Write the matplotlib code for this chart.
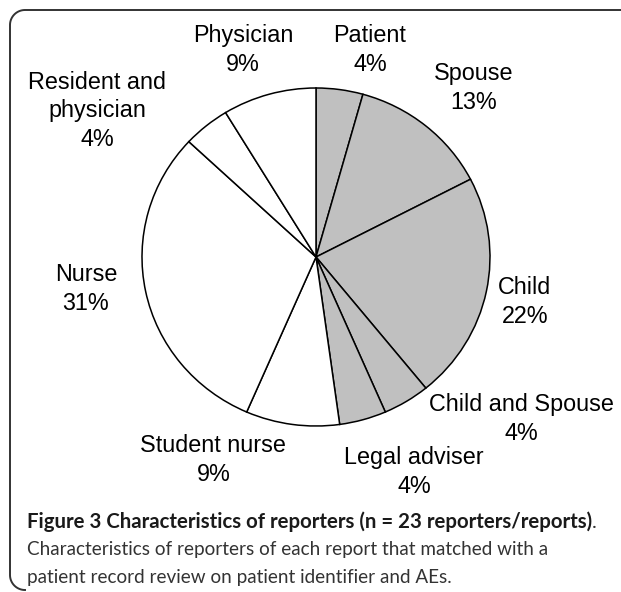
import numpy as np
import matplotlib.pyplot as plt
from matplotlib.lines import Line2D

# reporters of each report (n = 23), clockwise from 12 o'clock
reporters = ['Patient', 'Spouse', 'Child', 'Child and Spouse', 'Legal adviser',
             'Student nurse', 'Nurse', 'Resident and\nphysician', 'Physician']
counts = [1, 3, 5, 1, 1, 2, 7, 1, 2]
pct_labels = ['4%', '13%', '22%', '4%', '4%', '9%', '31%', '4%', '9%']
relative = [True, True, True, True, True, False, False, False, False]

# label centres, in pie radius units
label_pos = [(0.31, 1.225), (0.908, 1.0), (1.201, -0.266), (1.178, -0.959),
             (0.563, -1.272), (-0.59, -1.201), (-1.322, -0.189),
             (-1.259, 0.864), (-0.42, 1.225)]

W, H = 621, 592
fig = plt.figure(figsize=(W / 100, H / 100), dpi=100)
ax = fig.add_axes([0, 0, 1, 1])

colors = ['#c0c0c0' if r else 'white' for r in relative]
ax.pie(counts, colors=colors, startangle=90, counterclock=False,
       wedgeprops=dict(edgecolor='black', linewidth=1.1))
ax.set_aspect('auto')
cx, cy, rx, ry = 316, 257, 174, 169
ax.set_xlim(-cx / rx, (W - cx) / rx)
ax.set_ylim(-(H - cy) / ry, cy / ry)
ax.axis('off')

for name, pct, (x, y) in zip(reporters, pct_labels, label_pos):
    ax.text(x, y, name + '\n' + pct, ha='center', va='center',
            fontsize=16.8, family='Liberation Sans', linespacing=1.3)

# rounded frame (top and left edge only)
r = 15
t1 = np.linspace(np.pi / 2, np.pi, 20)
t2 = np.linspace(np.pi, 1.5 * np.pi, 20)
px = np.concatenate([[W], 25 + r * np.cos(t1), 25 + r * np.cos(t2)])
py = np.concatenate([[10], 25 - r * np.sin(t1), 575 - r * np.sin(t2)])
fig.add_artist(Line2D(px / W, 1 - py / H, color='#333333', lw=1.4,
                      transform=fig.transFigure))

# caption
cap = dict(family='Lato', va='center')
bold = fig.text(27 / W, 1 - 522 / H,
                'Figure 3 Characteristics of reporters (n = 23 reporters/reports)',
                weight='bold', color='#1a1a1a', size=14.7, **cap)
fig.canvas.draw()
bb = bold.get_window_extent()
fig.text(bb.x1 / W, 1 - 522 / H, '.', color='#333333', size=14.7, **cap)
fig.text(27 / W, 1 - 550 / H,
         'Characteristics of reporters of each report that matched with a',
         color='#333333', size=13.6, **cap)
fig.text(27 / W, 1 - 578 / H,
         'patient record review on patient identifier and AEs.',
         color='#333333', size=13.6, **cap)

plt.savefig('out.png', dpi=100)
